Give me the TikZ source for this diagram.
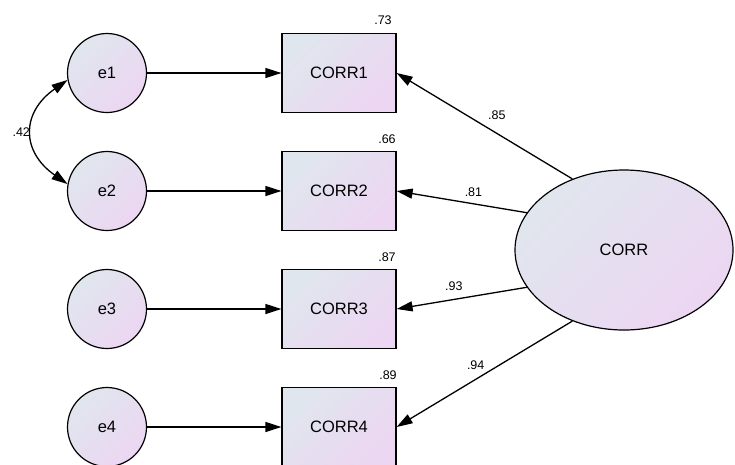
\documentclass[tikz,border=0pt]{standalone}
\usepackage{fontspec}
\setmainfont{Liberation Sans}
\usetikzlibrary{shapes.geometric,arrows.meta}
\definecolor{semA}{RGB}{224,230,238}
\definecolor{semB}{RGB}{236,214,242}

\begin{document}
\begin{tikzpicture}[x=1pt,y=-1pt,
  every node/.style={font=\fontsize{16.5}{19}\selectfont},
  shaded/.style={draw,line width=1.2pt,top color=semA,bottom color=semB,shading angle=45},
  err/.style={shaded,circle,minimum size=79pt,inner sep=0pt},
  obs/.style={shaded,rectangle,minimum width=114pt,minimum height=79pt,inner sep=0pt},
  lat/.style={shaded,ellipse,minimum width=218pt,minimum height=160pt,inner sep=0pt},
  num/.style={font=\fontsize{12.5}{14}\selectfont,inner sep=1pt},
  arr/.style={-{Triangle[length=16pt,width=10pt]},line width=1.3pt}]
\useasboundingbox (0,0) rectangle (735,464);
\node[err] (e1) at (107,73) {e1};
\node[err] (e2) at (107,191) {e2};
\node[err] (e3) at (107,309) {e3};
\node[err] (e4) at (107,427) {e4};
\node[obs] (o1) at (339,73) {CORR1};
\node[obs] (o2) at (339,191) {CORR2};
\node[obs] (o3) at (339,309) {CORR3};
\node[obs] (o4) at (339,427) {CORR4};
\node[lat] (corr) at (624,250) {CORR};
\node[num] (r1) at (383,20) {.73};
\node[num] (r2) at (387,139) {.66};
\node[num] (r3) at (387,257) {.87};
\node[num] (r4) at (388,375) {.89};
\path
(e1) edge[arr] (o1)
(e2) edge[arr] (o2)
(e3) edge[arr] (o3)
(e4) edge[arr] (o4)
(corr.126) edge[arr] node[num,above=12pt,pos=0.43] {.85} (o1.east)
(corr.159) edge[arr] node[num,above=6pt,pos=0.41] {.81} (o2.east)
(corr.201) edge[arr] node[num,above=7pt,pos=0.56] {.93} (o3.east)
(corr.234) edge[arr] node[num,above=8pt,pos=0.55] {.94} (o4.east);
\draw[{Triangle[length=16pt,width=10pt]}-{Triangle[length=16pt,width=10pt]},line width=1.3pt]
(e1.190) to[out=215,in=145,looseness=1.4] node[num,left=1pt] {.42} (e2.170);
\end{tikzpicture}
\end{document}
